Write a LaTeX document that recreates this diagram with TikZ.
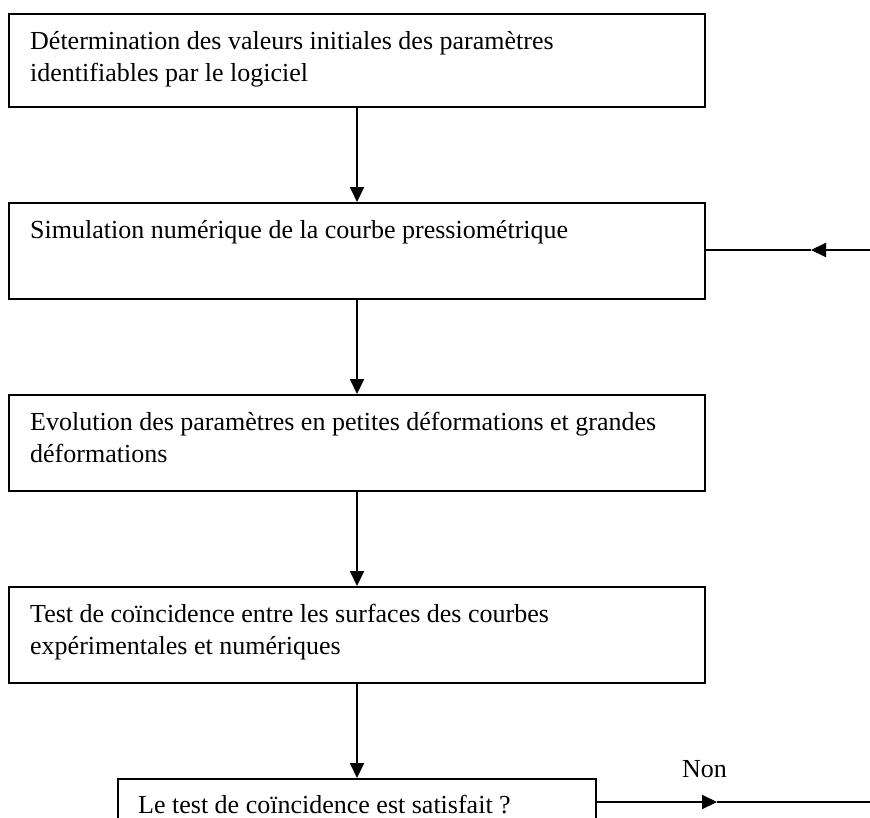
\documentclass[tikz,border=0pt]{standalone}
\usepackage{fontspec}
\setmainfont{Liberation Serif}
\usetikzlibrary{arrows.meta}
\begin{document}
\begin{tikzpicture}[x=1pt,y=-1pt,
  stepbox/.style={draw, line width=2pt, inner sep=0pt, anchor=north west,
                  minimum width=696pt, minimum height=96pt},
  steptext/.style={anchor=north west, inner sep=0pt, align=left,
                   font=\fontsize{26}{32}\selectfont},
  flow/.style={line width=2pt},
  arr/.style={flow, -{Triangle[length=15pt,width=14pt]}},
]
\useasboundingbox (0,0) rectangle (870,817);
\clip (0,0) rectangle (870,817);

% process boxes
\node[stepbox, minimum height=93pt] (b1) at (8,13) {};
\node[stepbox] (b2) at (8,202) {};
\node[stepbox] (b3) at (8,394) {};
\node[stepbox] (b4) at (8,586) {};
\node[stepbox, minimum width=478pt] (b5) at (117,778) {};

% box texts
\node[steptext] (t1) at (30,27) {\strut Détermination des valeurs initiales des paramètres\\identifiables par le logiciel};
\node[steptext] (t2) at (30,216) {\strut Simulation numérique de la courbe pressiométrique};
\node[steptext] (t3) at (30,408) {\strut Evolution des paramètres en petites déformations et grandes\\déformations};
\node[steptext] (t4) at (30,600) {\strut Test de coïncidence entre les surfaces des courbes\\expérimentales et numériques};
\node[steptext, anchor=base west] (t5) at (138,813) {Le test de coïncidence est satisfait ?};

% main flow
\draw[arr] (b1.south) -- (b2.north);
\draw[arr] (b2.south) -- (b3.north);
\draw[arr] (b3.south) -- (b4.north);
\draw[arr] (b4.south) -- (b4.south |- b5.north);

% loop back into the simulation step
\coordinate (backIn) at (870,250);
\coordinate (backTip) at (811,250);
\draw[flow] (backTip) -- (backTip -| b2.east);
\draw[arr] (backIn) -- (backTip);

% "Non" exit
\coordinate (nonTip) at (717,802);
\coordinate (nonEnd) at (870,802);
\draw[flow] (nonTip) -- (nonEnd);
\draw[arr] (nonTip -| b5.east) -- (nonTip);
\node[anchor=base west, inner sep=0pt, font=\fontsize{26}{32}\selectfont] (non) at (682,777) {Non};
\end{tikzpicture}
\end{document}
